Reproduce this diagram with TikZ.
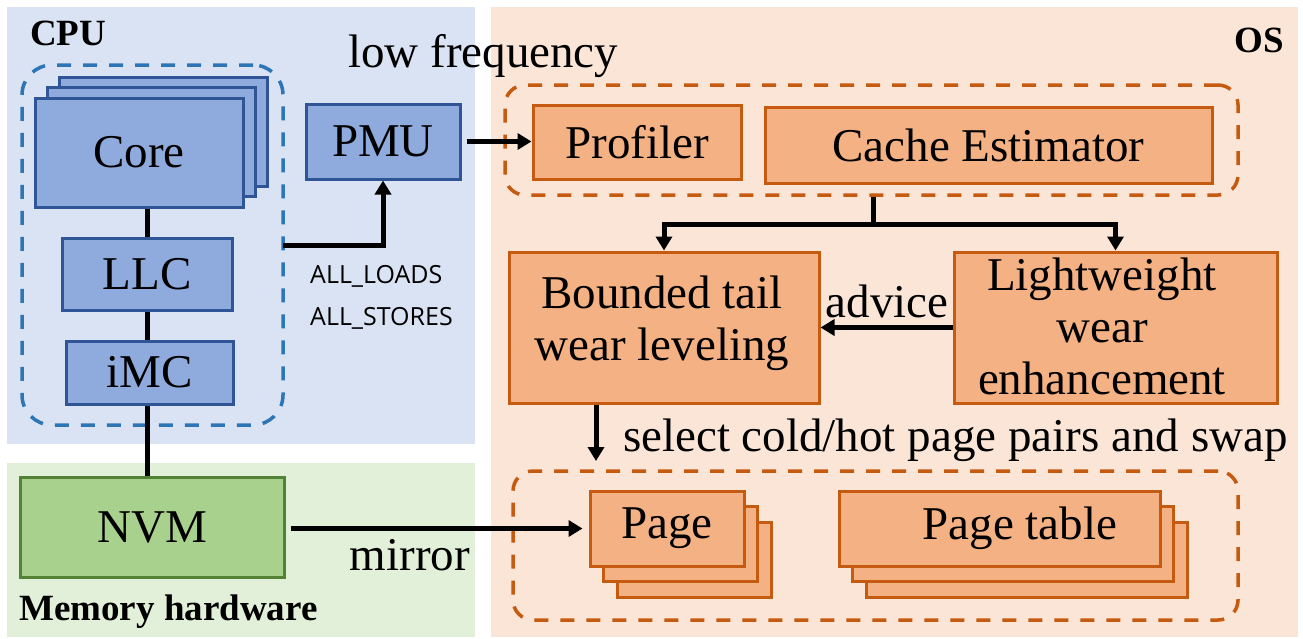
\documentclass[tikz,border=0pt]{standalone}
\usepackage{fontspec}
\setmainfont{Liberation Serif}
\newfontfamily\eventfont{Open Sans}
\usetikzlibrary{arrows.meta}

\definecolor{cpubg}{HTML}{DAE3F3}
\definecolor{bluefill}{HTML}{8FAADC}
\definecolor{blueedge}{HTML}{2F5597}
\definecolor{bluedash}{HTML}{2E75B6}
\definecolor{membg}{HTML}{E2F0D9}
\definecolor{greenfill}{HTML}{A9D18E}
\definecolor{greenedge}{HTML}{548235}
\definecolor{osbg}{HTML}{FBE5D6}
\definecolor{orangefill}{HTML}{F4B183}
\definecolor{orangeedge}{HTML}{C55A11}

\begin{document}
\begin{tikzpicture}[x=1pt,y=-1pt,
  big/.style={font=\fontsize{47}{52}\selectfont},
  title/.style={font=\fontsize{37}{41}\selectfont\bfseries},
  boxbase/.style={rectangle, line width=3pt, inner sep=0pt, big, align=center},
  bluebox/.style={boxbase, draw=blueedge, fill=bluefill},
  greenbox/.style={boxbase, draw=greenedge, fill=greenfill},
  orangebox/.style={boxbase, draw=orangeedge, fill=orangefill},
  group/.style={rectangle, line width=3.5pt, dash pattern=on 14pt off 12pt, inner sep=0pt},
  wire/.style={line width=5pt},
  conn/.style={line width=5pt, -{Triangle[length=14pt,width=16pt]}},
  plain/.style={inner sep=0pt},
  event/.style={plain, font=\eventfont\fontsize{25}{29}\selectfont, anchor=base west}
]
\useasboundingbox (0,0) rectangle (1303,638);

% region backgrounds
\fill[cpubg] (7,7) rectangle (475,444);
\fill[membg] (7,463) rectangle (475,637);
\fill[osbg] (491,7) rectangle (1298,637);

\node[plain, title, anchor=base west] (cpulabel) at (30,45) {CPU};
\node[plain, title, anchor=base west] (memlabel) at (19,620) {Memory hardware};
\node[plain, title, anchor=base east] (oslabel) at (1284,52) {OS};

% ---------------- CPU side ----------------
\node[group, draw=bluedash, rounded corners=30pt, minimum width=261pt, minimum height=360pt] (cpugroup) at (152.5,245) {};

\node[bluebox, minimum width=208pt, minimum height=109pt] (core3) at (163,131.5) {};
\node[bluebox, minimum width=208pt, minimum height=109pt] (core2) at (151,142) {};
\node[bluebox, minimum width=208pt, minimum height=109pt] (core) at (139,152.5) {Core};
\node[bluebox, minimum width=170pt, minimum height=72pt] (llc) at (147,274) {LLC};
\node[bluebox, minimum width=167pt, minimum height=63pt] (imc) at (149.5,372.5) {iMC};
\node[bluebox, minimum width=154pt, minimum height=75pt] (pmu) at (383,141.5) {PMU};

\node[greenbox, minimum width=264pt, minimum height=100pt] (nvm) at (152,527) {NVM};

\draw[wire] (core.south -| llc) -- (llc.north);
\draw[wire] (llc.south) -- (llc.south |- imc.north);
\draw[wire] (imc.south -| llc) -- (nvm.north -| llc);

\coordinate (tap) at (283,245);
\draw[conn] (tap) -| (pmu.south);
\node[event] (loads) at (310,283) {ALL\_LOADS};
\node[event] (stores) at (310,325) {ALL\_STORES};

% ---------------- OS side ----------------
\node[group, draw=orangeedge, rounded corners=20pt, minimum width=733pt, minimum height=110pt] (ostop) at (871.5,140) {};
\node[orangebox, minimum width=208pt, minimum height=74pt] (profiler) at (637,142) {Profiler};
\node[orangebox, minimum width=447pt, minimum height=76pt] (cache) at (988.5,145) {Cache Estimator};

\draw[conn, shorten <=5pt] (pmu.east) -- (pmu.east -| profiler.west);
\node[plain, big, anchor=base west] (lowfreq) at (348,67) {low frequency};

\node[orangebox, minimum width=310pt, minimum height=151pt] (bounded) at (664,327.5) {};
\node[plain, big, align=center] (boundedtext) at (662,323) {Bounded tail\\wear leveling};
\node[orangebox, minimum width=323pt, minimum height=151pt] (light) at (1115.5,327.5) {};
\node[plain, big, align=center] (lighttext) at (1102,326) {Lightweight\\wear\\enhancement};

\coordinate (split) at (873,224);
\draw[wire] (ostop.south -| split) -- (split);
\draw[conn] (split) -| (bounded.north);
\draw[conn] (split) -| (light.north);

\draw[conn] (light.west) -- (bounded.east);
\node[plain, big, anchor=base] (advice) at (887,317) {advice};

\node[group, draw=orangeedge, rounded corners=20pt, minimum width=725pt, minimum height=149pt] (osbottom) at (875.5,545.5) {};

\node[orangebox, minimum width=154pt, minimum height=75pt] (page3) at (694,559.5) {};
\node[orangebox, minimum width=154pt, minimum height=75pt] (page2) at (680.5,544) {};
\node[orangebox, minimum width=154pt, minimum height=75pt] (page) at (667,528.5) {Page};

\node[orangebox, minimum width=321pt, minimum height=75pt] (ptable3) at (1026.5,559.5) {};
\node[orangebox, minimum width=321pt, minimum height=75pt] (ptable2) at (1013,544) {};
\node[orangebox, minimum width=321pt, minimum height=75pt] (ptable) at (999.5,528.5) {};
\node[plain, big] (ptabletext) at (1020,528.5) {Page table};

\coordinate (selend) at (596,461);
\draw[conn] (bounded.south -| selend) -- (selend);
\node[plain, big, anchor=base west] (select) at (623,451) {select cold/hot page pairs and swap};

\draw[conn, shorten <=5pt, shorten >=6pt] (nvm.east |- page) -- (page.west);
\node[plain, big, anchor=base] (mirror) at (410,570) {mirror};
\end{tikzpicture}
\end{document}
